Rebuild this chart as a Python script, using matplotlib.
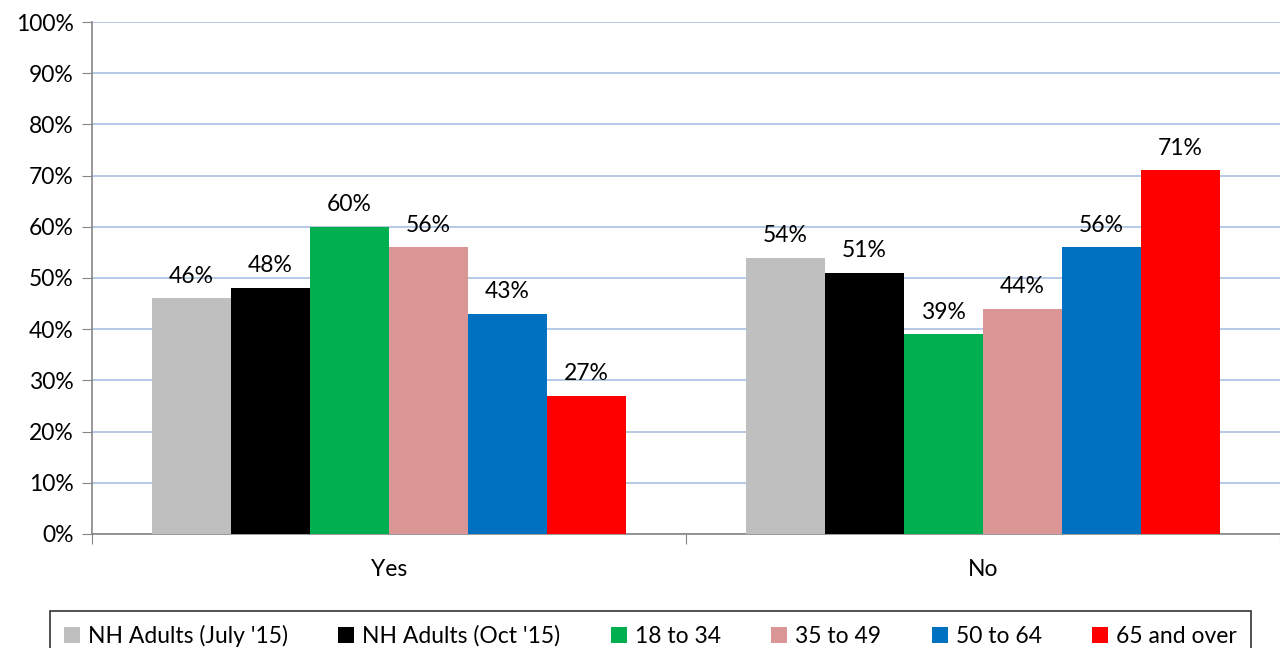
import numpy as np
import matplotlib.pyplot as plt
from matplotlib.ticker import PercentFormatter

plt.rcParams['font.family'] = ['Lato', 'DejaVu Sans']

categories = ["Yes", "No"]
series = ["NH Adults (July '15)", "NH Adults (Oct '15)", "18 to 34", "35 to 49", "50 to 64", "65 and over"]
values = [
    [46, 54],
    [48, 51],
    [60, 39],
    [56, 44],
    [43, 56],
    [27, 71],
]
colors = ["#bfbfbf", "#000000", "#00b050", "#d99694", "#0070c0", "#ff0000"]

fig = plt.figure(figsize=(12.8, 6.48), dpi=100)
ax = fig.add_axes([0.0719, 0.176, 0.9281, 0.790])

x = np.arange(len(categories))
width = 0.133
n = len(series)
for i, (name, vals, c) in enumerate(zip(series, values, colors)):
    pos = x + (i - (n - 1) / 2) * width
    bars = ax.bar(pos, vals, width, color=c, label=name, zorder=3)
    for b, v in zip(bars, vals):
        ax.text(b.get_x() + b.get_width() / 2, v + 2.3, f"{v}%", ha="center", va="bottom",
                fontsize=16.5, color="#000000")

ax.set_xlim(-0.5, 1.5)
ax.set_ylim(0, 100)
ax.set_yticks(range(0, 101, 10))
ax.yaxis.set_major_formatter(PercentFormatter(decimals=0))
ax.grid(axis="y", color="#a9c1e3", linewidth=1.2, zorder=0)

ax.set_xticks([-0.5, 0.5, 1.5])
ax.set_xticklabels([])
ax.set_xticks(x, minor=True)
ax.set_xticklabels(categories, minor=True)
ax.tick_params(axis="x", which="minor", length=0, pad=18, labelsize=16.5)
ax.tick_params(axis="x", which="major", length=7, color="#868686", direction="out")
ax.tick_params(axis="y", length=7, color="#868686", labelsize=16.5, pad=6)

for s in ["top", "right"]:
    ax.spines[s].set_visible(False)
for s in ["left", "bottom"]:
    ax.spines[s].set_color("#868686")
    ax.spines[s].set_linewidth(1.2)

leg = fig.legend(loc="upper center", bbox_to_anchor=(0.508, 0.075), ncol=6, frameon=True,
                 fancybox=False, edgecolor="#000000", fontsize=16.5, handlelength=0.7,
                 handleheight=0.7, handletextpad=0.35, columnspacing=2.2,
                 borderpad=0.6)
leg.get_frame().set_linewidth(1.2)

fig.savefig("out.png", dpi=100)
